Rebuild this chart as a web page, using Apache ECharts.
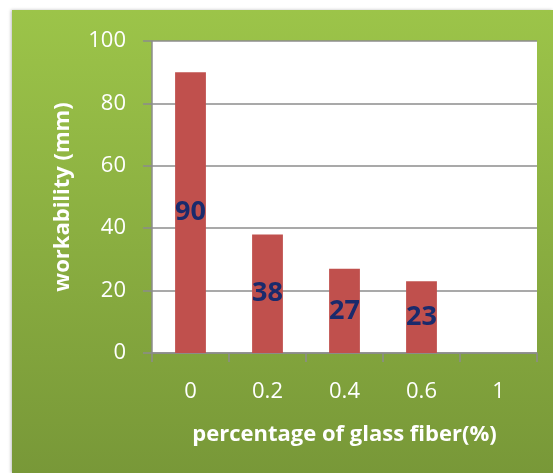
<!DOCTYPE html>
<html>
<head>
<meta charset="utf-8">
<script src="https://cdn.jsdelivr.net/npm/echarts@6/dist/echarts.min.js"></script>
<style>
  html, body { margin: 0; padding: 0; background: #ffffff; }
  #chart { width: 553px; height: 473px; }
</style>
</head>
<body>
<div id="chart"></div>
<script>
// Glass fiber content (%) and measured slump workability (mm)
const categories = ['0', '0.2', '0.4', '0.6', '1'];
const workability = [90, 38, 27, 23, null];
const yTicks = { min: 0, max: 100, interval: 20 };

const chart = echarts.init(document.getElementById('chart'), null, { renderer: 'canvas' });

const fontFamily = '"Open Sans", "Liberation Sans", sans-serif';

chart.setOption({
  animation: false,
  backgroundColor: '#ffffff',
  graphic: [{
    type: 'rect',
    z: -10,
    shape: { x: 12, y: 10, width: 541, height: 463 },
    style: {
      fill: new echarts.graphic.LinearGradient(0, 0, 0, 1, [
        { offset: 0, color: '#9cc449' },
        { offset: 1, color: '#789838' }
      ]),
      shadowColor: 'rgba(0,0,0,0.25)',
      shadowBlur: 3,
      shadowOffsetX: -1
    }
  }],
  grid: {
    left: 152, right: 16, top: 41, bottom: 120,
    show: true, backgroundColor: '#ffffff', borderWidth: 0
  },
  xAxis: {
    type: 'category',
    data: categories,
    boundaryGap: true,
    name: 'percentage of glass fiber(%)',
    nameLocation: 'middle',
    nameGap: 71,
    nameTextStyle: { color: '#ffffff', fontSize: 22, fontWeight: 'bold', fontFamily },
    axisLine: { show: true, lineStyle: { color: '#8c8c8c', width: 1.5 } },
    axisTick: { show: true, alignWithLabel: false, length: 9, lineStyle: { color: '#8c8c8c', width: 1.5 } },
    axisLabel: { color: '#ffffff', fontSize: 22, fontFamily, margin: 28 },
    splitLine: { show: false }
  },
  yAxis: {
    type: 'value',
    min: yTicks.min, max: yTicks.max, interval: yTicks.interval,
    name: 'workability (mm)',
    nameLocation: 'middle',
    nameGap: 78,
    nameRotate: 90,
    nameTextStyle: { color: '#ffffff', fontSize: 22, fontWeight: 'bold', fontFamily },
    axisLine: { show: true, lineStyle: { color: '#8c8c8c', width: 1.5 } },
    axisTick: { show: true, inside: false, length: 9, lineStyle: { color: '#8c8c8c', width: 1.5 } },
    axisLabel: { color: '#ffffff', fontSize: 22, fontFamily, margin: 26 },
    splitLine: { show: true, lineStyle: { color: '#8c8c8c', width: 1.5 } }
  },
  series: [{
    type: 'bar',
    data: workability,
    barWidth: '40%',
    itemStyle: { color: '#c0504d' },
    label: {
      show: true,
      position: 'inside',
      color: '#1a2a6c',
      fontSize: 27,
      fontWeight: 'bold',
      fontFamily
    }
  }]
});
</script>
</body>
</html>
